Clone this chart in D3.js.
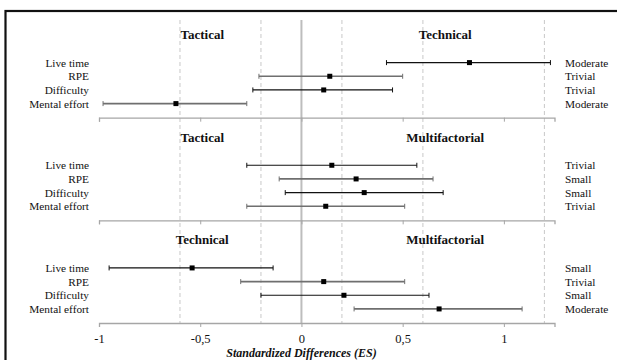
<!DOCTYPE html>
<html>
<head>
<meta charset="utf-8">
<script src="https://cdn.jsdelivr.net/npm/d3@7/dist/d3.min.js"></script>
<style>
  html, body { margin: 0; padding: 0; background: #fff; }
  svg { display: block; }
</style>
</head>
<body>
<svg id="chart" width="617" height="360"></svg>
<script>
// ---- data ----
const categories = ["Live time", "RPE", "Difficulty", "Mental effort"];
const panelTitles = [["Tactical", "Technical"], ["Tactical", "Multifactorial"], ["Technical", "Multifactorial"]];
const means = [
  [0.83, 0.14, 0.11, -0.62],
  [0.15, 0.27, 0.31, 0.12],
  [-0.54, 0.11, 0.21, 0.68]
];
const lows = [
  [0.42, -0.21, -0.24, -0.98],
  [-0.27, -0.11, -0.08, -0.27],
  [-0.95, -0.30, -0.20, 0.26]
];
const highs = [
  [1.23, 0.50, 0.45, -0.27],
  [0.57, 0.65, 0.70, 0.51],
  [-0.14, 0.51, 0.63, 1.09]
];
const magnitudes = [
  ["Moderate", "Trivial", "Trivial", "Moderate"],
  ["Trivial", "Small", "Small", "Trivial"],
  ["Small", "Trivial", "Small", "Moderate"]
];
const tickValues = [-1, -0.5, 0, 0.5, 1];
const gridValues = [-0.6, -0.2, 0.2, 0.6, 1.2];
const xDomain = [-1, 1.25];

// ---- layout ----
const FONT = "'Liberation Serif', 'DejaVu Serif', serif";
const svg = d3.select("#chart").attr("font-family", FONT);
const x = d3.scaleLinear().domain(xDomain).range([99, 554.5]);
const panel = d3.scaleBand().domain(d3.range(panelTitles.length)).range([15, 323]);
const row = d3.scalePoint().domain(categories).range([47.6, 88.6]);
const titleX = [-0.49, 0.71];
const gridTop = 20, gridBottom = 323;

// outer frame
svg.append("rect").attr("x", 5.5).attr("y", 11).attr("width", 700).attr("height", 500)
  .attr("fill", "none").attr("stroke", "#111").attr("stroke-width", 2.2);

// dashed reference lines
svg.append("g").selectAll("line").data(gridValues).join("line")
  .attr("x1", d => x(d)).attr("x2", d => x(d))
  .attr("y1", gridTop).attr("y2", gridBottom)
  .attr("stroke", "#c8c8c8").attr("stroke-width", 1).attr("stroke-dasharray", "4,3");

// zero line
svg.append("line").attr("x1", x(0)).attr("x2", x(0)).attr("y1", gridTop).attr("y2", gridBottom)
  .attr("stroke", "#bdbdbd").attr("stroke-width", 2);

const fmt = d => String(d).replace(".", ",");

panelTitles.forEach((titles, p) => {
  const top = panel(p);
  const g = svg.append("g").attr("font-family", FONT).attr("fill", "#111");
  const bottom = top + panel.bandwidth();

  // axis
  const axis = d3.axisBottom(x).tickValues(tickValues).tickSize(4)
    .tickFormat(p === panelTitles.length - 1 ? fmt : "");
  const ag = svg.append("g").attr("transform", `translate(0,${bottom})`).call(axis)
    .attr("font-family", FONT).attr("font-size", 12.5);
  ag.select(".domain").attr("stroke", "#a6a6a6").attr("stroke-width", 1.3);
  ag.selectAll(".tick line").attr("stroke", "#a6a6a6");
  ag.selectAll(".tick text").attr("fill", "#111").attr("dy", "1.05em");

  // titles
  g.selectAll("text.title").data(titles).join("text")
    .attr("class", "title")
    .attr("x", (d, i) => x(titleX[i]))
    .attr("y", top + 24)
    .attr("text-anchor", "middle")
    .attr("font-weight", "bold").attr("font-size", 13)
    .text(d => d);

  // category labels
  g.selectAll("text.cat").data(categories).join("text")
    .attr("class", "cat")
    .attr("x", 89).attr("y", d => top + row(d) + 4)
    .attr("text-anchor", "end").attr("font-size", 11.3)
    .text(d => d);

  // magnitude labels
  g.selectAll("text.mag").data(magnitudes[p]).join("text")
    .attr("class", "mag")
    .attr("x", 565).attr("y", (d, i) => top + row(categories[i]) + 4)
    .attr("font-size", 11.3)
    .text(d => d);

  const items = categories.map((c, i) => ({ c, i, m: means[p][i], lo: lows[p][i], hi: highs[p][i] }));
  const col = d => d.i % 2 === 0 ? "#111" : "#6f6f6f";
  const sw = d => d.i % 2 === 0 ? 1.2 : 1.7;

  const eb = g.selectAll("g.eb").data(items).join("g").attr("class", "eb")
    .attr("transform", d => `translate(0,${top + row(d.c)})`);
  eb.append("line").attr("x1", d => x(d.lo)).attr("x2", d => x(d.hi)).attr("y1", 0).attr("y2", 0)
    .attr("stroke", col).attr("stroke-width", sw);
  eb.append("line").attr("x1", d => x(d.lo)).attr("x2", d => x(d.lo)).attr("y1", -2.5).attr("y2", 2.5)
    .attr("stroke", col).attr("stroke-width", 1);
  eb.append("line").attr("x1", d => x(d.hi)).attr("x2", d => x(d.hi)).attr("y1", -2.5).attr("y2", 2.5)
    .attr("stroke", col).attr("stroke-width", 1);
  eb.append("rect").attr("x", d => x(d.m) - 2.5).attr("y", -2.5).attr("width", 5).attr("height", 5)
    .attr("fill", "#000");
});

// axis title
svg.append("text").attr("x", x(0)).attr("y", 357).attr("text-anchor", "middle")
  .attr("font-family", FONT)
  .attr("font-weight", "bold").attr("font-style", "italic").attr("font-size", 12)
  .attr("fill", "#111")
  .text("Standardized Differences (ES)");
</script>
</body>
</html>
